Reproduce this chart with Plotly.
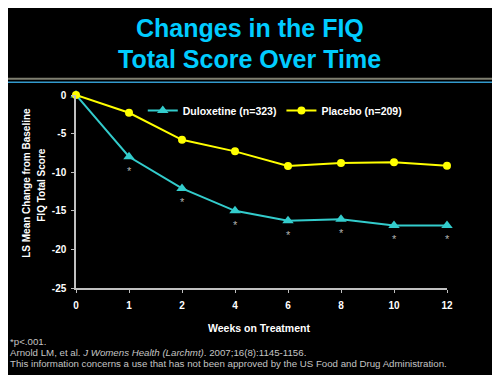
import plotly.graph_objects as go

weeks = ["0", "1", "2", "4", "6", "8", "10", "12"]
duloxetine = [0, -8.0, -12.1, -15.0, -16.3, -16.1, -16.9, -16.9]
placebo = [0, -2.3, -5.8, -7.3, -9.2, -8.8, -8.7, -9.15]
significant = [False, True, True, True, True, True, True, True]
y_ticks = [0, -5, -10, -15, -20, -25]

FONT = "Liberation Sans, Arial, sans-serif"

fig = go.Figure()
fig.add_trace(go.Scatter(
    x=weeks, y=duloxetine, name="<b>Duloxetine (n=323)</b>", mode="lines+markers",
    line=dict(color="#33CCCC", width=2),
    marker=dict(symbol="triangle-up", size=10, color="#33CCCC"),
    cliponaxis=False,
))
fig.add_trace(go.Scatter(
    x=weeks, y=placebo, name="<b>Placebo (n=209)</b>", mode="lines+markers",
    line=dict(color="#FFFF00", width=2),
    marker=dict(symbol="circle", size=8, color="#FFFF00"),
    cliponaxis=False,
))

for i, (v, s) in enumerate(zip(duloxetine, significant)):
    if s:
        fig.add_annotation(x=i, y=v, text="*", showarrow=False, yshift=-14,
                           xanchor="center", yanchor="middle",
                           font=dict(family=FONT, size=11, color="#B0B0B0"))

# Title
fig.add_annotation(xref="paper", yref="paper", x=0.5, y=1, xshift=-12, yshift=67,
                   xanchor="center", yanchor="middle",
                   text="<b>Changes in the FIQ</b>", showarrow=False,
                   font=dict(family=FONT, size=25, color="#00CCFF"))
fig.add_annotation(xref="paper", yref="paper", x=0.5, y=1, xshift=-12, yshift=36,
                   xanchor="center", yanchor="middle",
                   text="<b>Total Score Over Time</b>", showarrow=False,
                   font=dict(family=FONT, size=25, color="#00CCFF"))

# Y title (two lines)
fig.add_annotation(xref="paper", yref="paper", x=0, y=0.545, xshift=-49,
                   xanchor="center", yanchor="middle",
                   text="<b>LS Mean Change from Baseline</b>", textangle=-90, showarrow=False,
                   font=dict(family=FONT, size=10, color="white"))
fig.add_annotation(xref="paper", yref="paper", x=0, y=0.535, xshift=-34,
                   xanchor="center", yanchor="middle",
                   text="<b>FIQ Total Score</b>", textangle=-90, showarrow=False,
                   font=dict(family=FONT, size=10, color="white"))

# X title
fig.add_annotation(xref="paper", yref="paper", x=0.5, y=0, xshift=-3, yshift=-40,
                   xanchor="center", yanchor="middle",
                   text="<b>Weeks on Treatment</b>", showarrow=False,
                   font=dict(family=FONT, size=10.5, color="white"))

# Footnotes
foot = [
    "*p<.001.",
    "Arnold LM, et al. <i>J Womens Health (Larchmt)</i>. 2007;16(8):1145-1156.",
    "This information concerns a use that has not been approved by the US Food and Drug Administration.",
]
for i, t in enumerate(foot):
    fig.add_annotation(xref="paper", yref="paper", x=0, y=0, xshift=-68, yshift=-53 - 11 * i,
                       xanchor="left", yanchor="middle", text=t, showarrow=False,
                       font=dict(family=FONT, size=9.7, color="#C4C4C4"))

# Top rules
fig.add_shape(type="line", xref="paper", yref="paper", x0=-0.25, x1=1.25, y0=1.0845, y1=1.0845,
              line=dict(color="#7F7F70", width=2))
fig.add_shape(type="line", xref="paper", yref="paper", x0=-0.25, x1=1.25, y0=1.066, y1=1.066,
              line=dict(color="#3399CC", width=1.5))

fig.update_layout(
    width=500, height=375,
    margin=dict(l=68, r=61, t=87, b=95),
    paper_bgcolor="black", plot_bgcolor="black",
    showlegend=True,
    legend=dict(orientation="h", x=0.18, y=0.995, xanchor="left", yanchor="top",
                bgcolor="rgba(0,0,0,0)",
                font=dict(family=FONT, size=10.5, color="white"), itemwidth=30,
                tracegroupgap=0),
    font=dict(family=FONT, color="white"),
)
fig.update_xaxes(
    type="category", range=[0, 7], showgrid=False, zeroline=False,
    showline=True, linecolor="#C0C0C0", linewidth=1.5,
    ticks="outside", ticklen=3, tickcolor="#C0C0C0",
    ticklabelstandoff=4,
    tickfont=dict(family=FONT, size=10, color="white"),
    tickprefix="<b>", ticksuffix="</b>",
)
fig.update_yaxes(
    range=[-25, 0], tickvals=y_ticks, ticktext=[f"<b>{v}</b>" for v in y_ticks],
    showgrid=False, zeroline=False,
    showline=True, linecolor="#C0C0C0", linewidth=1.5,
    ticks="outside", ticklen=3, tickcolor="#C0C0C0",
    ticklabelstandoff=3,
    tickfont=dict(family=FONT, size=10, color="white"),
)

fig.write_html("out.html")
